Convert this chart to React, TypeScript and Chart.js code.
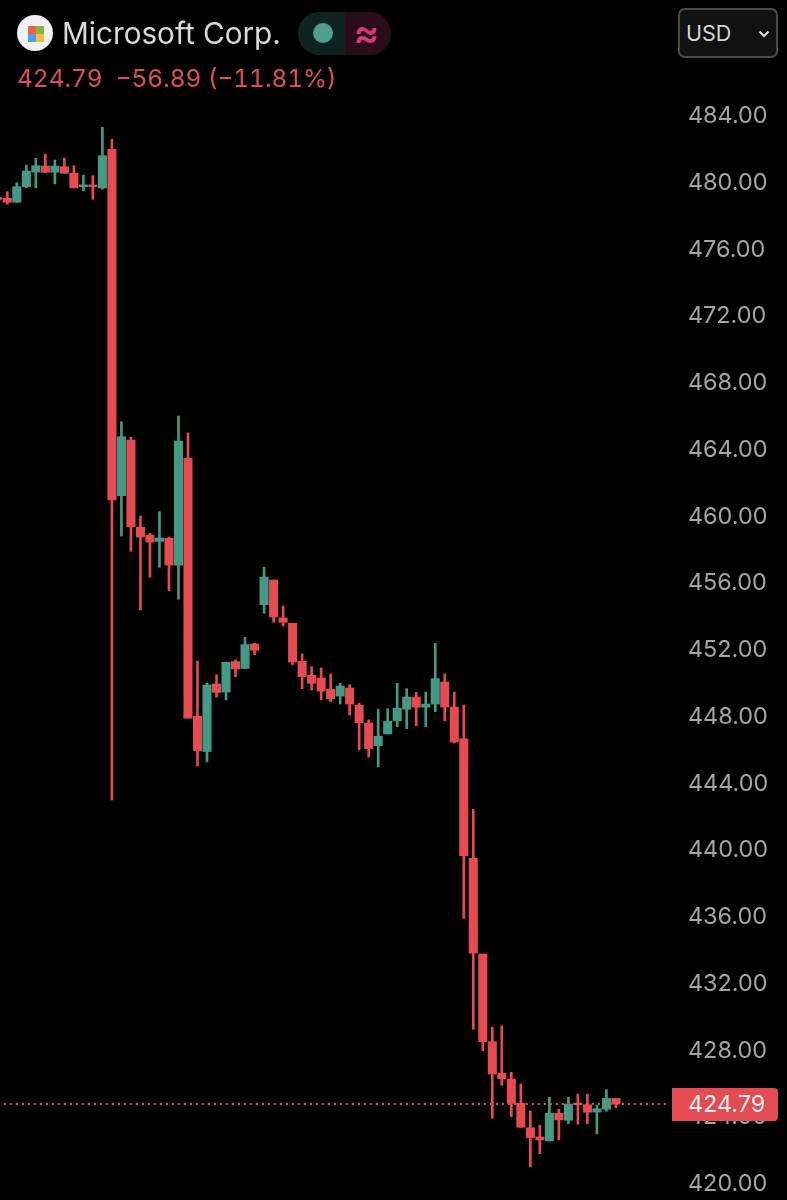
import React, { useEffect, useRef } from "react";
import { Chart, registerables } from "chart.js";

Chart.register(...registerables);

const UP = "#459A85";
const DOWN = "#E54B52";
const LAST_PRICE = 424.79;

const candleIndex = [-1,0,1,2,3,4,5,6,7,8,9,10,11,12,13,14,15,16,17,18,19,20,21,22,23,24,25,26,27,28,29,30,31,32,33,34,35,36,37,38,39,40,41,42,43,44,45,46,47,48,49,50,51,52,53,54,55,56,57,58,59,60,61,62,63,64];
const opens = [479.12,479.07,478.83,479.76,480.64,481.00,480.63,480.96,480.57,479.76,479.87,479.69,482.00,461.25,464.58,459.35,458.89,458.51,458.69,457.08,463.49,448.03,445.91,449.96,449.48,451.30,450.90,452.36,454.71,456.19,453.92,453.60,451.32,450.48,450.32,449.64,449.24,449.72,448.69,447.63,446.27,446.97,447.75,448.45,449.18,448.57,448.76,450.08,448.58,446.67,439.52,433.78,428.53,426.63,426.29,424.84,423.37,422.82,422.58,424.24,423.82,424.85,424.75,424.31,424.48,425.13];
const highs = [479.21,479.46,480.00,481.06,481.47,481.71,481.36,481.47,481.02,480.46,480.42,483.32,482.60,465.68,464.75,460.03,458.99,460.29,458.77,466.02,465.02,451.34,450.00,450.52,451.26,451.40,452.76,452.40,456.96,456.19,454.64,453.60,451.76,451.00,450.92,450.56,450.00,449.92,448.81,447.81,448.45,448.48,450.00,449.68,449.46,449.48,452.40,450.56,449.48,448.70,442.45,433.78,429.39,429.47,426.69,425.99,424.38,423.52,425.20,424.48,425.20,425.38,425.38,424.73,425.65,425.13];
const lows = [478.91,478.71,478.83,479.70,479.69,480.60,479.93,480.57,479.69,479.52,479.01,479.61,443.01,458.83,457.91,454.40,456.36,456.96,455.55,455.04,447.91,445.05,445.29,449.17,449.00,450.40,450.88,451.72,454.20,453.66,453.44,451.12,449.68,449.60,449.00,448.90,448.76,448.10,446.01,445.59,445.01,446.97,447.40,447.28,447.46,447.40,448.30,447.75,446.43,435.92,429.27,427.99,423.94,425.91,424.03,423.40,421.04,421.82,422.58,422.64,423.61,423.58,423.60,423.00,424.36,424.57];
const closes = [479.00,478.83,479.76,480.70,481.02,480.63,481.00,480.57,479.69,479.87,479.76,481.62,460.99,464.78,459.39,458.77,458.47,458.71,457.09,464.52,447.91,445.97,449.90,449.46,451.26,450.86,452.32,451.98,456.37,453.98,453.66,451.28,450.41,450.00,449.54,449.08,449.84,448.76,447.64,446.09,446.83,447.73,448.51,449.18,448.57,448.76,450.28,448.58,446.49,439.67,433.83,428.53,426.59,426.31,424.84,423.40,422.78,422.64,424.24,423.84,424.79,424.75,424.30,424.51,425.13,424.79];
const priceTicks = [420,424,428,432,436,440,444,448,452,456,460,464,468,472,476,480,484];

const TICK_FONT = { family: "Inter", size: 23.4, weight: "400" };

const candleColors = opens.map((o, i) => (closes[i] >= o ? UP : DOWN));

const priceTag = {
  id: "priceTag",
  afterDraw(chart: any) {
    const { ctx, scales } = chart;
    const y = scales.y.getPixelForValue(LAST_PRICE);
    ctx.save();
    ctx.fillStyle = DOWN;
    ctx.beginPath();
    ctx.roundRect(672, y - 16, 106, 33, [0, 4, 4, 0]);
    ctx.fill();
    ctx.fillStyle = "#F6F1F1";
    ctx.font = `${TICK_FONT.weight} ${TICK_FONT.size}px ${TICK_FONT.family}`;
    ctx.textAlign = "left";
    ctx.textBaseline = "middle";
    ctx.fillText(LAST_PRICE.toFixed(2), 688, y + 1);
    ctx.restore();
  },
};

export default function App() {
  const ref = useRef<HTMLCanvasElement | null>(null);

  useEffect(() => {
    document.body.style.margin = "0";
    document.body.style.background = "#000";
    const chart = new Chart(ref.current as HTMLCanvasElement, {
      type: "bar",
      data: {
        datasets: [
          {
            type: "line",
            label: "Last",
            data: [
              { x: -1, y: LAST_PRICE },
              { x: 70, y: LAST_PRICE },
            ],
            borderColor: "#D0605A",
            borderWidth: 2,
            borderDash: [2, 4],
            pointRadius: 0,
            order: 0,
          },
          {
            label: "Wick",
            data: candleIndex.map((x, i) => ({ x, y: [lows[i], highs[i]] })),
            backgroundColor: candleColors,
            barThickness: 2,
            borderWidth: 0,
            borderSkipped: false,
            grouped: false,
            order: 2,
          },
          {
            label: "Body",
            data: candleIndex.map((x, i) => ({ x, y: [opens[i], closes[i]] })),
            backgroundColor: candleColors,
            barThickness: 8.4,
            borderWidth: 0,
            borderSkipped: false,
            grouped: false,
            order: 1,
          },
        ] as any,
      },
      options: {
        responsive: false,
        animation: false,
        maintainAspectRatio: false,
        layout: { padding: 0 },
        plugins: { legend: { display: false }, tooltip: { enabled: false } },
        scales: {
          x: {
            type: "linear",
            display: false,
            offset: false,
            min: -0.768,
            max: 69.37,
            grid: { display: false },
          },
          y: {
            type: "linear",
            position: "right",
            min: 419.04,
            max: 490.95,
            grid: { display: false, drawTicks: false },
            border: { display: false },
            afterBuildTicks: (scale: any) => {
              scale.ticks = priceTicks.map((value) => ({ value }));
            },
            afterFit: (scale: any) => {
              scale.width = 120;
              scale.paddingTop = 0;
              scale.paddingBottom = 0;
            },
            ticks: {
              autoSkip: false,
              padding: 21,
              color: "#A4A4A4",
              font: TICK_FONT as any,
              callback: (v: any) => Number(v).toFixed(2),
            },
          },
        },
      },
      plugins: [priceTag],
    } as any);
    return () => chart.destroy();
  }, []);

  return (
    <div style={{ position: "absolute", left: 0, top: 0, width: 787, height: 1200, background: "#000", overflow: "hidden", fontFamily: "Inter, sans-serif" }}>
      <canvas ref={ref} width={787} height={1200} style={{ display: "block", position: "absolute", left: 0, top: 0 }} />
      {/* logo */}
      <div style={{ position: "absolute", left: 17, top: 15, width: 36, height: 36, borderRadius: "50%", background: "#EFF1F6" }} />
      <div style={{ position: "absolute", left: 28, top: 26, width: 7.5, height: 7.5, background: "#EF6040" }} />
      <div style={{ position: "absolute", left: 36, top: 26, width: 7.5, height: 7.5, background: "#86B540" }} />
      <div style={{ position: "absolute", left: 28, top: 34, width: 7.5, height: 7.5, background: "#4C9FE6" }} />
      <div style={{ position: "absolute", left: 36, top: 34, width: 7.5, height: 7.5, background: "#F9BC3C" }} />
      <div style={{ position: "absolute", left: 62, top: 14, fontSize: 29.7, lineHeight: "38px", color: "#D9D9D9", whiteSpace: "nowrap" }}>Microsoft Corp.</div>
      {/* status pill */}
      <div style={{ position: "absolute", left: 298, top: 12, width: 47, height: 43, background: "#0E2320", borderRadius: "21px 0 0 21px" }} />
      <div style={{ position: "absolute", left: 345, top: 12, width: 46, height: 43, background: "#2A0D18", borderRadius: "0 21px 21px 0" }} />
      <div style={{ position: "absolute", left: 313, top: 23, width: 20, height: 20, borderRadius: "50%", background: "#4F9F8A" }} />
      <div style={{ position: "absolute", left: 345, top: 12, width: 43, height: 43, lineHeight: "41px", textAlign: "center", color: "#D63A6E", fontSize: 38, fontWeight: 600 }}>≈</div>
      <div style={{ position: "absolute", left: 17, top: 62, fontSize: 24.4, lineHeight: "32px", color: "#DA5058", whiteSpace: "nowrap", fontVariantNumeric: "tabular-nums" }}>424.79&nbsp; −56.89 (−11.81%)</div>
      {/* currency */}
      <div style={{ position: "absolute", left: 678, top: 8, width: 100, height: 50, boxSizing: "border-box", border: "2px solid #4A4A4A", borderRadius: 7, background: "#111" }} />
      <div style={{ position: "absolute", left: 686, top: 17, fontSize: 21.5, lineHeight: "32px", color: "#D4D4D4" }}>USD</div>
      <svg style={{ position: "absolute", left: 757, top: 29 }} width={14} height={10}>
        <polyline points="2.5,2.5 7,7 11.5,2.5" fill="none" stroke="#DDD" strokeWidth={2} />
      </svg>
    </div>
  );
}
